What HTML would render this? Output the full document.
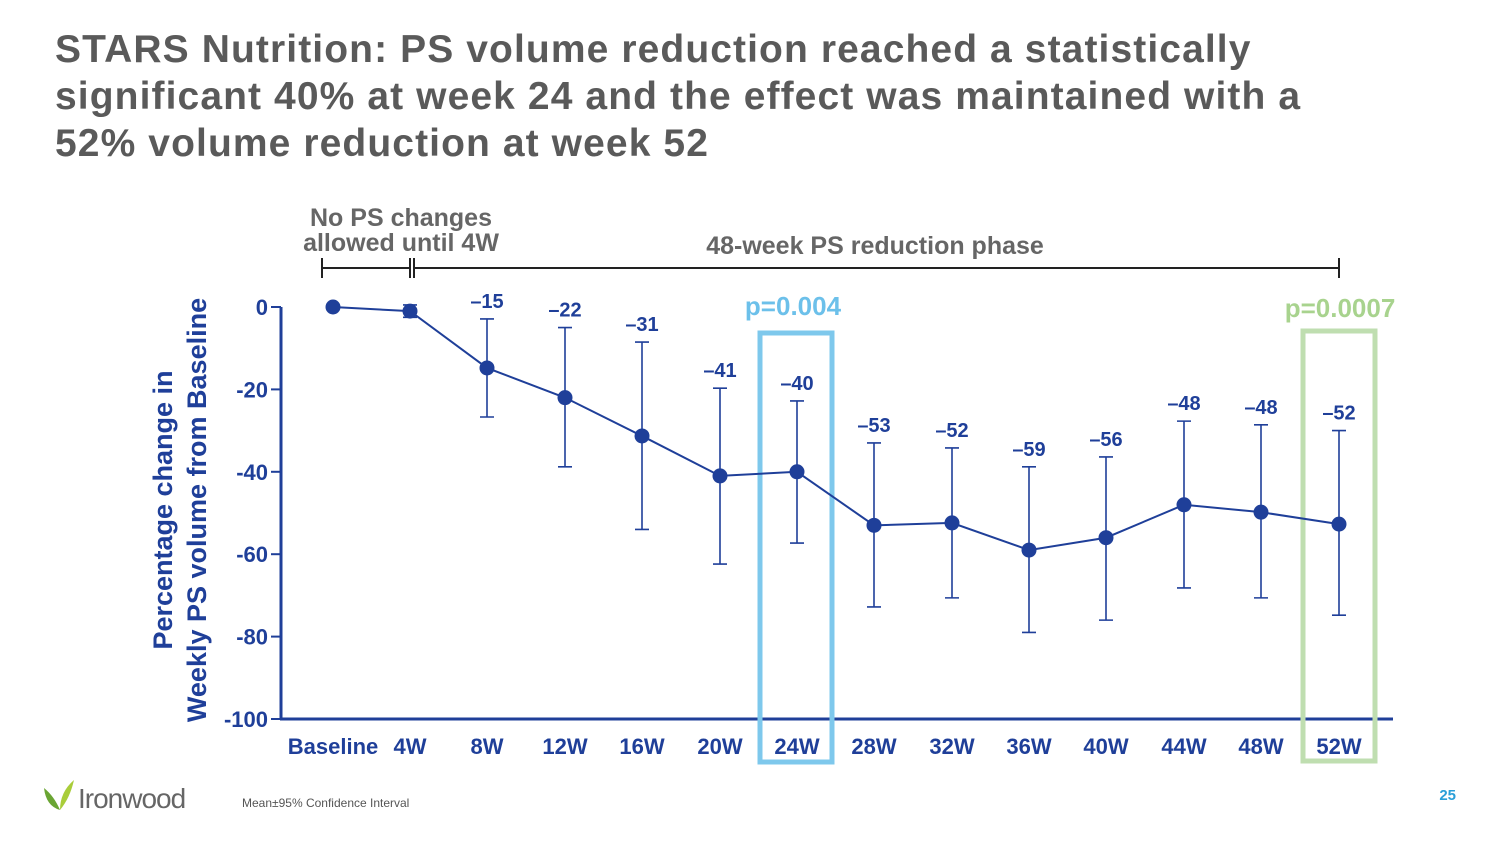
<!DOCTYPE html>
<html><head><meta charset="utf-8"><style>
body{margin:0;width:1500px;height:844px;background:#fff;overflow:hidden;font-family:"Liberation Sans",sans-serif}
#title{position:absolute;left:55px;top:26px;font-size:39px;font-weight:bold;color:#5a5a5a;line-height:47px;letter-spacing:1.1px}
</style></head><body>
<div id="title">STARS Nutrition: PS volume reduction reached a statistically<br>significant 40% at week 24 and the effect was maintained with a<br>52% volume reduction at week 52</div>
<svg id="chart" width="1500" height="844" style="position:absolute;left:0;top:0"></svg>
<script>
const categories=["Baseline","4W","8W","12W","16W","20W","24W","28W","32W","36W","40W","44W","48W","52W"];
const means=[0,-1,-14.8,-22,-31.3,-41,-40,-53,-52.4,-59,-56,-48,-49.8,-52.7];
const upper=[null,0.5,-2.9,-5,-8.5,-19.7,-22.8,-33,-34.2,-38.8,-36.4,-27.7,-28.6,-30];
const lower=[null,-2.5,-26.7,-38.8,-54,-62.4,-57.3,-72.8,-70.6,-79,-76,-68.2,-70.6,-74.8];
const valueLabels=[null,null,"\u201315","\u201322","\u201331","\u201341","\u201340","\u201353","\u201352","\u201359","\u201356","\u201348","\u201348","\u201352"];
const yTicks=[0,-20,-40,-60,-80,-100];
const NS="http://www.w3.org/2000/svg";
const svg=document.getElementById('chart');
const xPos=[333,410,487,565,642,720,797,874,952,1029,1106,1184,1261,1339];
const x=i=>xPos[i];
const y=v=>307+(-v)*4.12;
const blue="#1f3f99";
function mk(t,a,txt){const e=document.createElementNS(NS,t);for(const k in a)e.setAttribute(k,a[k]);if(txt!=null)e.textContent=txt;svg.appendChild(e);return e;}
let e=mk('line',{x1:281,y1:307,x2:281,y2:720,stroke:blue,'stroke-width':3});

e=mk('line',{x1:280,y1:719,x2:1393,y2:719,stroke:blue,'stroke-width':3});

yTicks.forEach(v=>{
 let t=mk('line',{x1:271,y1:y(v),x2:281,y2:y(v),stroke:blue,'stroke-width':2});
 
 let l=mk('text',{x:268,y:y(v)+8,'text-anchor':'end','font-size':22,'font-weight':'bold',fill:blue},String(v));
 
});
categories.forEach((c,i)=>{
 let l=mk('text',{x:x(i),y:754,'text-anchor':'middle','font-size':22,'font-weight':'bold',fill:blue},c);
 
});
e=mk('text',{transform:'translate(172,510) rotate(-90)','text-anchor':'middle','font-size':27,'font-weight':'bold',fill:blue},'Percentage change in');

e=mk('text',{transform:'translate(206,510) rotate(-90)','text-anchor':'middle','font-size':27,'font-weight':'bold',fill:blue},'Weekly PS volume from Baseline');

e=mk('rect',{x:760,y:333,width:72,height:429,fill:'none',stroke:'#7ec8ec','stroke-width':5});

e=mk('text',{x:793,y:315,'text-anchor':'middle','font-size':26,'font-weight':'bold',fill:'#6cc0ea'},'p=0.004');

e=mk('rect',{x:1303,y:331,width:72,height:430,fill:'none',stroke:'#bfdeb0','stroke-width':5});

e=mk('text',{x:1340,y:317,'text-anchor':'middle','font-size':26,'font-weight':'bold',fill:'#a8d38e'},'p=0.0007');

categories.forEach((c,i)=>{
 if(upper[i]==null)return;
 let g=mk('path',{d:`M${x(i)},${y(upper[i])}V${y(lower[i])}M${x(i)-7},${y(upper[i])}H${x(i)+7}M${x(i)-7},${y(lower[i])}H${x(i)+7}`,stroke:blue,'stroke-width':1.6,fill:'none'});
 
});
e=mk('polyline',{points:means.map((v,i)=>x(i)+','+y(v)).join(' '),fill:'none',stroke:blue,'stroke-width':2});

means.forEach((v,i)=>{
 let p=mk('circle',{cx:x(i),cy:y(v),r:7.5,fill:blue});
 
 if(valueLabels[i]){
  let l=mk('text',{x:x(i),y:y(upper[i])-11,'text-anchor':'middle','font-size':20,'font-weight':'bold',fill:blue},valueLabels[i]);
  
 }
});
e=mk('path',{d:'M322,268H410M414,268H1339M322,258V278M410,258V278M414,258V278M1339,258V278',stroke:'#222','stroke-width':2,fill:'none'});

e=mk('text',{x:401,y:226,'text-anchor':'middle','font-size':25,'font-weight':'bold',fill:'#666'},'No PS changes');

e=mk('text',{x:401,y:251,'text-anchor':'middle','font-size':25,'font-weight':'bold',fill:'#666'},'allowed until 4W');

e=mk('text',{x:875,y:254,'text-anchor':'middle','font-size':25,'font-weight':'bold',fill:'#666'},'48-week PS reduction phase');

e=mk('path',{d:'M44,788 Q54,796 60,810 Q46,806 44,788Z',fill:'#6aa533'});

e=mk('path',{d:'M74,780 Q70,798 60,810 Q60,792 74,780Z',fill:'#a9cd3a'});

e=mk('text',{x:78,y:808,'font-size':28,fill:'#666','letter-spacing':'-1'},'Ironwood');

e=mk('text',{x:242,y:807,'font-size':12,fill:'#555'},'Mean\u00b195% Confidence Interval');

e=mk('text',{x:1456,y:800,'text-anchor':'end','font-size':15,'font-weight':'bold',fill:'#2a9fd8'},'25');

</script>
</body></html>
